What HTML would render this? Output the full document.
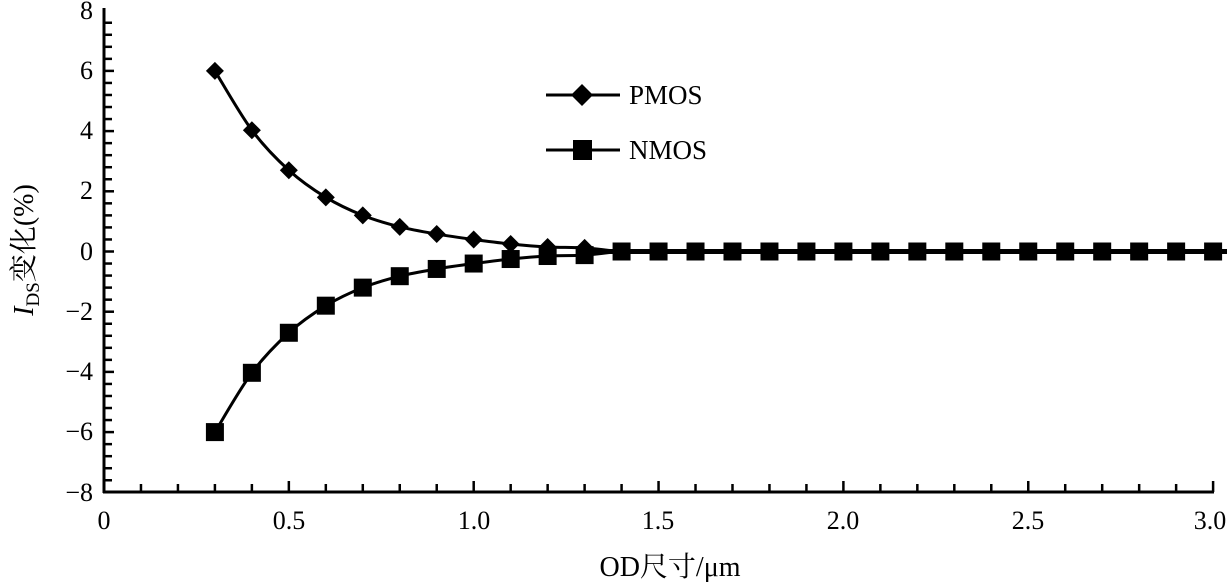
<!DOCTYPE html>
<html><head><meta charset="utf-8"><style>
html,body{margin:0;padding:0;background:#fff;}
svg text{font-family:"Liberation Serif","Noto Serif CJK SC",serif;fill:#000;}
</style></head><body>
<svg id="s" width="1227" height="583" viewBox="0 0 1227 583" xmlns="http://www.w3.org/2000/svg">
<g id="ticks" stroke="#000" stroke-width="2.5"></g>
<line x1="104" y1="8" x2="104" y2="493" stroke="#000" stroke-width="3"/>
<line x1="103" y1="492" x2="1214" y2="492" stroke="#000" stroke-width="3"/>
<g font-size="26" text-anchor="end">
<text x="93" y="19">8</text>
<text x="93" y="79">6</text>
<text x="93" y="139">4</text>
<text x="93" y="199">2</text>
<text x="93" y="260">0</text>
<text x="93" y="320">−2</text>
<text x="93" y="380">−4</text>
<text x="93" y="440">−6</text>
<text x="93" y="501">−8</text>
</g>
<g font-size="26" text-anchor="middle">
<text x="104" y="529">0</text>
<text x="289" y="529">0.5</text>
<text x="474" y="529">1.0</text>
<text x="658" y="529">1.5</text>
<text x="843" y="529">2.0</text>
<text x="1028" y="529">2.5</text>
<text x="1210" y="529">3.0</text>
</g>
<text x="670" y="576" font-size="28" text-anchor="middle">OD尺寸/μm</text>
<text transform="translate(33,250) rotate(-90)" font-size="28" text-anchor="middle"><tspan font-style="italic">I</tspan><tspan font-size="19" dy="6">DS</tspan><tspan dy="-6">变化(%)</tspan></text>
<g id="series"></g>
<line x1="546" y1="95" x2="620" y2="95" stroke="#000" stroke-width="3"/>
<polygon points="582,84 593,95 582,106 571,95" fill="#000"/>
<line x1="546" y1="150" x2="620" y2="150" stroke="#000" stroke-width="3"/>
<rect x="573" y="140" width="19" height="20" fill="#000"/>
<text x="629" y="104" font-size="27">PMOS</text>
<text x="629" y="159" font-size="27">NMOS</text>
</svg>
<script>
var X=function(v){return 104+v*369.7},Y=function(v){return 251.5-v*30.1};
var t='';
for(var i=1;i<40;i++){var y=Y(8-i*0.4);t+='<line x1="104" x2="'+(i%5==0?114:112)+'" y1="'+y+'" y2="'+y+'"/>';}
for(var i=1;i<=30;i++){var x=X(i*0.1);t+='<line x1="'+x+'" x2="'+x+'" y1="492" y2="'+(i%5==0?481:484)+'"/>';}
document.getElementById('ticks').innerHTML=t;
var xs=[],p=[6,4.03,2.7,1.8,1.2,0.82,0.58,0.4,0.25,0.15,0.12];
for(var i=3;i<=30;i++)xs.push(i/10);
var pv=xs.map(function(x,i){return i<p.length?p[i]:0;});
function path(v){var pts=xs.map(function(x,i){return [X(x),Y(v[i])];});var d='M'+pts[0];
for(var i=0;i<pts.length-1;i++){var p0=pts[Math.max(i-1,0)],p1=pts[i],p2=pts[i+1],p3=pts[Math.min(i+2,pts.length-1)];
var c1=[p1[0]+(p2[0]-p0[0])/6,p1[1]+(p2[1]-p0[1])/6],c2=[p2[0]-(p3[0]-p1[0])/6,p2[1]-(p3[1]-p1[1])/6];
d+='C'+c1+' '+c2+' '+p2;}return d;}
var s='';
s+='<path d="'+path(pv)+'" fill="none" stroke="#000" stroke-width="3"/>';
s+='<path d="'+path(pv.map(function(a){return -a;}))+'" fill="none" stroke="#000" stroke-width="3"/>';
s+='<line x1="'+X(1.3)+'" x2="1227" y1="'+Y(0)+'" y2="'+Y(0)+'" stroke="#000" stroke-width="5"/>';
for(var i=0;i<xs.length;i++){var x=X(xs[i]),y=Y(-pv[i]);s+='<rect x="'+(x-9)+'" y="'+(y-9)+'" width="18" height="18"/>';}
for(var i=0;i<xs.length;i++){var x=X(xs[i]),y=Y(pv[i]);s+='<polygon points="'+x+','+(y-9)+' '+(x+9)+','+y+' '+x+','+(y+9)+' '+(x-9)+','+y+'"/>';}
document.getElementById('series').innerHTML=s;
</script>
</body></html>
